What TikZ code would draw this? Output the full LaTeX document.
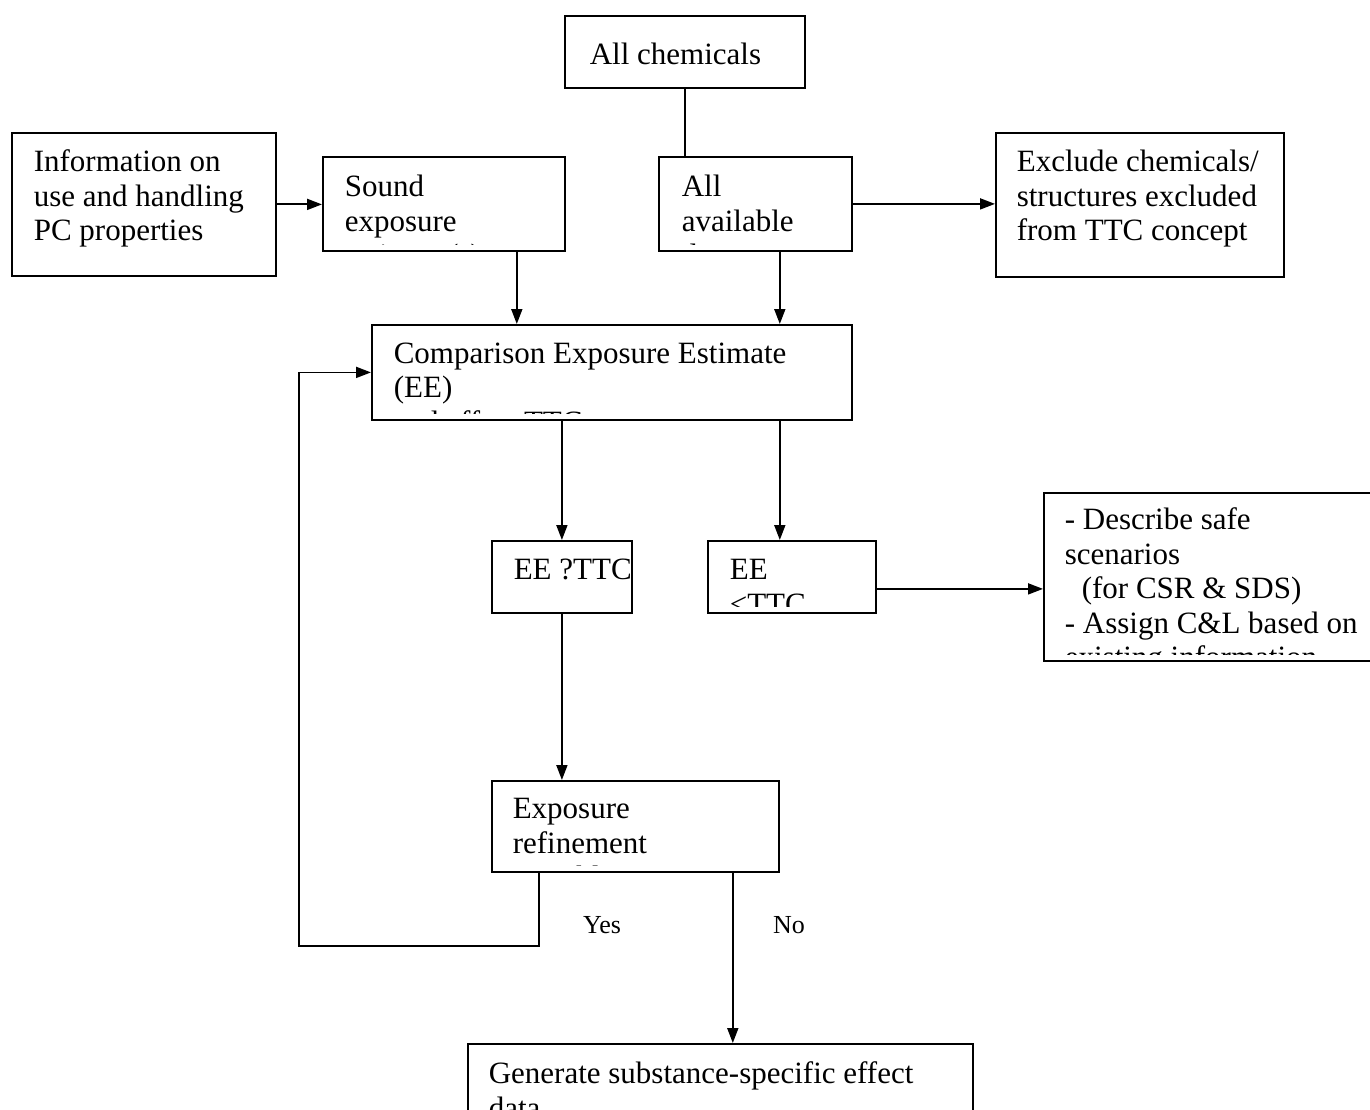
\documentclass[tikz,border=0pt]{standalone}
\usepackage{fontspec}
\setmainfont{Liberation Serif}
\usetikzlibrary{arrows.meta}

\newcommand\boxfont{\fontsize{31}{34.5}\selectfont}

\tikzset{
  box/.style={draw, line width=1.8pt, inner sep=0pt, anchor=north west},
  boxtext/.style n args={3}{path picture={
      \clip ([yshift=6pt]path picture bounding box.south west) rectangle (path picture bounding box.north east);
      \node[anchor=north west, align=left, inner sep=0pt, minimum width=0pt, minimum height=0pt, font=\boxfont]
        at ([xshift=#1, yshift=-#2]path picture bounding box.north west) {\strut#3};}},
  arr/.style={line width=1.8pt, -{Triangle[length=15pt,width=11pt]}},
  answer/.style={anchor=base west, inner sep=0pt, font=\fontsize{26}{30}\selectfont}
}

\begin{document}
\begin{tikzpicture}[x=1pt,y=-1pt]
        \clip (0,0) rectangle (1370,1110);
        % boxes
        \node[box, minimum width=240pt, minimum height=72pt, boxtext={24pt}{24pt}{All chemicals}] (chem) at (564,15) {};
        \node[box, minimum width=264pt, minimum height=143pt, boxtext={21pt}{14pt}{Information on\\use and handling\\PC properties}] (info) at (11,132) {};
        \node[box, minimum width=242pt, minimum height=94pt, boxtext={21pt}{15pt}{Sound\\exposure\\estimate(s)}] (sound) at (322,156) {};
        \node[box, minimum width=193pt, minimum height=94pt, boxtext={22pt}{15pt}{All\\available\\data}] (data) at (658,156) {};
        \node[box, minimum width=288pt, minimum height=144pt, boxtext={20pt}{14pt}{Exclude chemicals/\\structures excluded\\from TTC concept}] (excl) at (995,132) {};
        \node[box, minimum width=480pt, minimum height=95pt, boxtext={21pt}{13.5pt}{Comparison Exposure Estimate\\(EE)\\and effect TTC}] (comp) at (371,324) {};
        \node[box, minimum width=140pt, minimum height=72pt, boxtext={21pt}{14pt}{EE ?TTC}] (ge) at (491,540) {};
        \node[box, minimum width=168pt, minimum height=72pt, boxtext={21pt}{14pt}{EE\\<TTC}] (lt) at (707,540) {};
        \node[box, minimum width=360pt, minimum height=168pt, boxtext={20pt}{12pt}{- Describe safe\\scenarios\\\hspace*{17pt}(for CSR \& SDS)\\- Assign C\&L based on\\existing information}] (safe) at (1043,492) {};
        \node[box, minimum width=287pt, minimum height=91pt, boxtext={20pt}{13pt}{Exposure\\refinement\\possible?}] (refine) at (491,780) {};
        \node[box, minimum width=505pt, minimum height=90pt, boxtext={20pt}{15pt}{Generate substance-specific effect\\data}] (gen) at (467,1043) {};
        \node[answer] (yes) at (583,933) {Yes};
        \node[answer] (no) at (773,933) {No};
        % connectors
        \draw[line width=1.8pt] (chem.south) -- (chem.south |- data.north);
        \draw[arr] (info.east) -- (info.east -| sound.west);
        \draw[arr] (data.east) -- (data.east -| excl.west);
        \draw[arr] ([xshift=-49pt]sound.south east) -- ([xshift=-49pt]sound.south east |- comp.north);
        \draw[arr] ([xshift=-73pt]data.south east) -- ([xshift=-73pt]data.south east |- comp.north);
        \draw[arr] (comp.south -| ge.north) -- (ge.north);
        \draw[arr] ([xshift=-73pt]comp.south east) -- ([xshift=-73pt]comp.south east |- lt.north);
        \draw[arr] ([yshift=-12pt]lt.east) -- ([yshift=-12pt]lt.east -| safe.west);
        \draw[arr] (ge.south) -- (ge.south |- refine.north);
        \coordinate (loop) at (299,946);
        \draw[arr] ([xshift=48pt]refine.south west) |- (loop) |- (comp.west);
        \draw[arr] ([xshift=-47pt]refine.south east) -- ([xshift=-47pt]refine.south east |- gen.north);
\end{tikzpicture}
\end{document}
